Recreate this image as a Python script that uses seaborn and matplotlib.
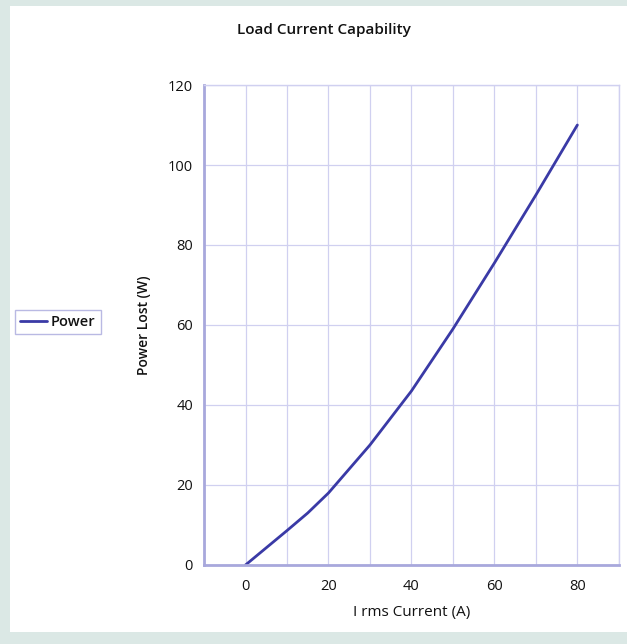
import matplotlib
matplotlib.use("Agg")
import matplotlib.pyplot as plt
import seaborn as sns
import pandas as pd
from matplotlib.patches import Rectangle

current = [0, 5, 10, 15, 20, 30, 40, 50, 60, 70, 80]
power = [0, 4.3, 8.6, 13, 18, 30, 43.5, 59, 75.5, 92.5, 110]
x_ticks = [0, 20, 40, 60, 80]
y_ticks = [0, 20, 40, 60, 80, 100, 120]

sns.set_theme(style="white")
plt.rcParams['font.family'] = ['Open Sans', 'DejaVu Sans']

df = pd.DataFrame({"I rms Current (A)": current, "Power Lost (W)": power, "series": "Power"})

fig = plt.figure(figsize=(6.27, 6.44), dpi=100, facecolor="#dbe8e5")
fig.patches.append(Rectangle((0.016, 0.018), 0.984, 0.972, transform=fig.transFigure,
                             facecolor="white", edgecolor="none", zorder=-5))
ax = fig.add_axes([0.3254, 0.1227, 0.6616, 0.7453])
ax.set_zorder(2)
ax.set_facecolor("white")

grid_c = "#d0d0f0"
axis_c = "#a8a8dc"
for gx in range(-10, 91, 10):
    ax.axvline(gx, color=grid_c, lw=0.9, zorder=0)
for gy in y_ticks:
    ax.axhline(gy, color=grid_c, lw=0.9, zorder=0)

sns.lineplot(data=df, x="I rms Current (A)", y="Power Lost (W)", hue="series",
             palette=["#3a3aa6"], linewidth=2, ax=ax, legend=True)

ax.set_xlim(-10, 90)
ax.set_ylim(0, 120)
ax.set_xticks(x_ticks)
ax.set_yticks(y_ticks)
ax.set_xticks(range(-10, 91, 20), minor=True)
ax.tick_params(axis="x", which="major", length=0, labelsize=10.5, pad=10, colors="#111111")
ax.tick_params(axis="x", which="minor", length=5, width=1.6, color=axis_c, direction="in")
ax.tick_params(axis="y", which="major", length=5, width=1.6, color=axis_c, direction="out",
               labelsize=10.5, pad=3, labelcolor="#111111")
for s in ["top", "right"]:
    ax.spines[s].set_color(grid_c)
    ax.spines[s].set_linewidth(1)
for s in ["left", "bottom"]:
    ax.spines[s].set_color(axis_c)
    ax.spines[s].set_linewidth(2)

ax.set_xlabel("I rms Current (A)", fontsize=11, labelpad=8, color="#111111")
ax.set_ylabel("Power Lost (W)", fontsize=10, labelpad=12, color="#111111", fontweight="semibold")
fig.text(0.517, 0.953, "Load Current Capability", ha="center", va="center",
         fontsize=11, fontweight="semibold", color="#111111")

leg = ax.legend(loc="center", bbox_to_anchor=(0.0925, 0.5, 0, 0), bbox_transform=fig.transFigure,
                frameon=True, fancybox=False, fontsize=10.5, handlelength=1.8, handletextpad=0.3,
                borderpad=0.35, title=None)
leg.get_frame().set_edgecolor(axis_c)
leg.get_frame().set_linewidth(1)
for t in leg.get_texts():
    t.set_color("#111111")
    t.set_fontweight("semibold")

fig.savefig("out.png", dpi=100, facecolor=fig.get_facecolor())
